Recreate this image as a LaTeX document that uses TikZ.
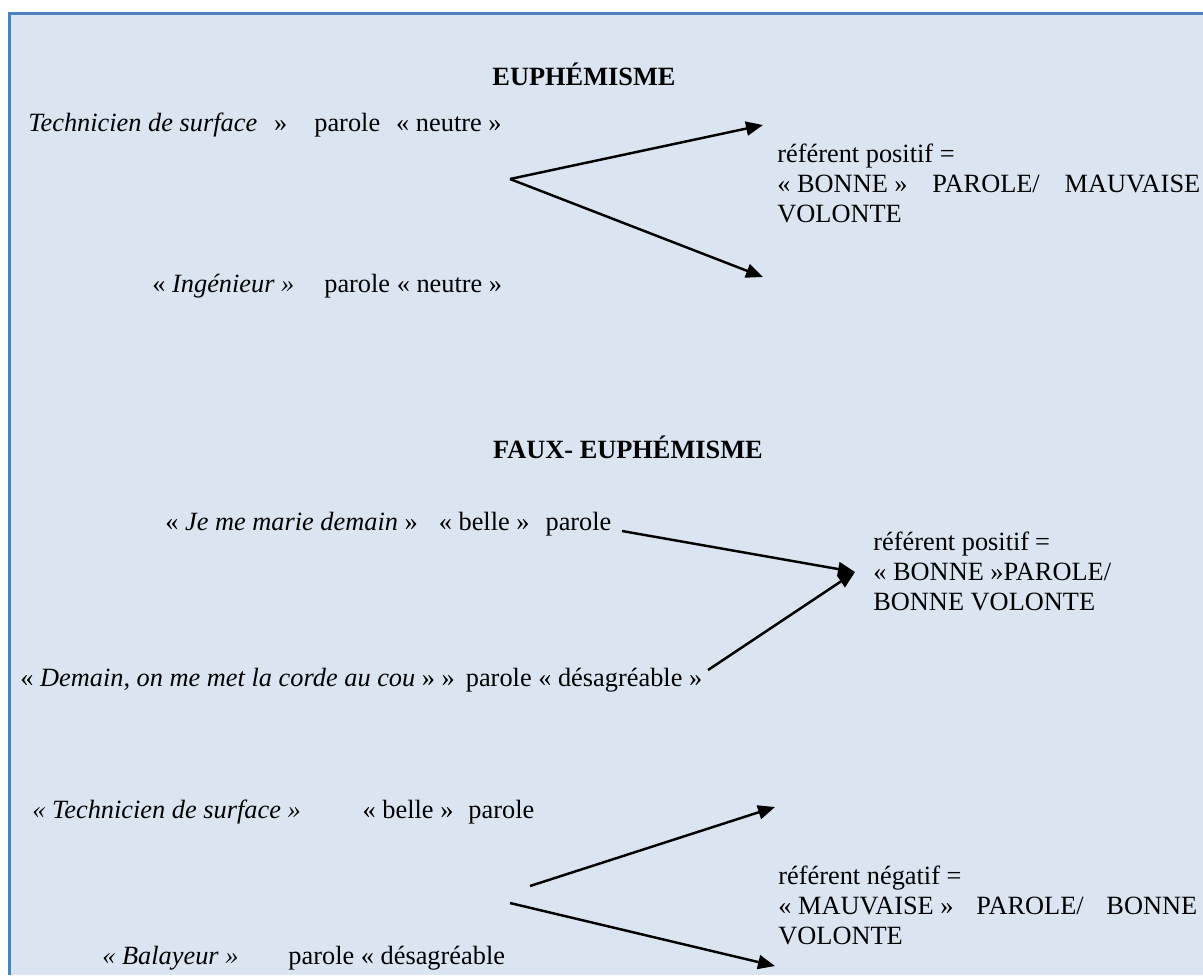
\documentclass[tikz,border=0pt]{standalone}
\usepackage{fontspec}
\setmainfont{Liberation Serif}
\usepackage{xcolor}
\usetikzlibrary{arrows.meta}
\definecolor{boxfill}{HTML}{DBE5F1}
\definecolor{boxline}{HTML}{4F81BD}

\begin{document}
\begin{tikzpicture}[x=0.02cm,y=-0.02cm,
  txt/.style={anchor=base west,inner sep=0pt,font=\fontsize{15}{17}\selectfont},
  ttl/.style={anchor=base,inner sep=0pt,font=\fontsize{15}{17}\selectfont\bfseries},
  ref/.style={txt,align=left},
  arr/.style={line width=1.4pt,-{Triangle[length=0.34cm,width=0.28cm]}}]
\useasboundingbox (0,0) rectangle (1203,975);
\fill [white] (0,0) rectangle (1203,975);
\fill [boxfill] (9.5,13) rectangle (1203,975);
\draw [boxline,line width=1.7pt] (9.5,975) -- (9.5,13) -- (1203,13);

% euphemisme
\node (titre1) [ttl] at (584,85) {EUPHÉMISME};
\node (tech1) [txt] at (28,131) {\textit{Technicien de surface}\hspace{0.34cm}»\hspace{0.54cm}parole\hspace{0.32cm}« neutre »};
\node (ingen) [txt] at (152,292) {« \textit{Ingénieur »}\hspace{0.6cm}parole « neutre »};
% base = last line of the block
\node (ref1) [ref] at (777,222) {référent positif =\\\makebox[8.46cm][s]{\hbox{« BONNE »} PAROLE/ MAUVAISE}\\VOLONTE};

\coordinate (o1) at (510,179);
\coordinate (e1a) at (763,125);
\coordinate (e1b) at (763,277);
\draw [arr] (o1) -- (e1a);
\draw [arr] (o1) -- (e1b);

% faux euphemisme
\node (titre2) [ttl] at (628,458) {FAUX- EUPHÉMISME};
\node (marie) [txt] at (165,530) {« \textit{Je me marie demain} »\hspace{0.42cm}« belle »\hspace{0.32cm}parole};
\node (corde) [txt] at (20,686) {« \textit{Demain, on me met la corde au cou} » »\hspace{0.22cm}parole « désagréable »};
\node (ref2) [ref] at (873,610) {référent positif\hspace{0.12cm}=\\« BONNE »PAROLE/\\BONNE VOLONTE};

\coordinate (s2a) at (622,531);
\coordinate (s2b) at (708,670);
\coordinate (tip2) at (855,572);
\draw [arr] (s2a) -- (tip2);
\draw [arr] (s2b) -- (tip2);

% troisieme cas
\node (tech2) [txt] at (32,818) {\textit{« Technicien de surface »}\hspace{1.24cm}« belle »\hspace{0.3cm}parole};
\node (balai) [txt] at (102,964) {\textit{« Balayeur »}\hspace{1cm}parole « désagréable};
\node (ref3) [ref] at (778,944) {référent négatif =\\\makebox[8.38cm][s]{\hbox{« MAUVAISE »} PAROLE/ BONNE}\\VOLONTE};

\coordinate (s3a) at (530,886);
\coordinate (s3b) at (510,903);
\coordinate (e3a) at (775,807);
\coordinate (e3b) at (775,966);
\draw [arr] (s3a) -- (e3a);
\draw [arr] (s3b) -- (e3b);
\end{tikzpicture}
\end{document}
